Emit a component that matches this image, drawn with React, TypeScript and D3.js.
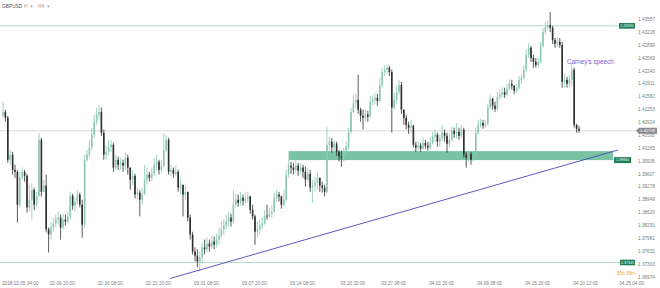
import React from 'react';
import * as d3 from 'd3';

const W = 660;
const H = 288;

const firstOpen = 1.4109;

const closes = [
  1.4119,1.4104,1.3997,1.4010,1.3971,1.3966,1.3882,1.3951,1.3966,1.3956,
  1.3875,1.3895,1.3920,1.3882,1.3905,1.4048,1.3915,1.3931,1.3819,1.3806,
  1.3824,1.3834,1.3844,1.3849,1.3824,1.3844,1.3839,1.3852,1.3905,1.3880,
  1.3890,1.3908,1.3882,1.3831,1.3997,1.4010,1.4028,1.4061,1.4094,1.4112,
  1.4119,1.4066,1.4010,1.4017,1.4030,1.4035,1.3977,1.3997,1.3984,1.3989,
  1.3982,1.4002,1.3977,1.3946,1.3956,1.3908,1.3913,1.3895,1.3908,1.3946,
  1.3959,1.3951,1.3961,1.3984,1.3992,1.3971,1.3982,1.4022,1.4048,1.3966,
  1.3971,1.3961,1.3966,1.3926,1.3933,1.3908,1.3915,1.3849,1.3806,1.3762,
  1.3752,1.3737,1.3747,1.3773,1.3768,1.3783,1.3775,1.3788,1.3780,1.3793,
  1.3803,1.3819,1.3829,1.3839,1.3849,1.3839,1.3882,1.3895,1.3887,1.3900,
  1.3892,1.3898,1.3903,1.3869,1.3852,1.3813,1.3819,1.3829,1.3834,1.3854,
  1.3852,1.3859,1.3864,1.3900,1.3908,1.3903,1.3882,1.3895,1.3959,1.3982,
  1.3977,1.3971,1.3982,1.3969,1.3977,1.3966,1.3946,1.3961,1.3926,1.3931,
  1.3938,1.3951,1.3931,1.3926,1.3915,1.4035,1.4043,1.4028,1.4038,1.4017,
  1.4005,1.4002,1.4012,1.4030,1.4068,1.4119,1.4142,1.4150,1.4125,1.4109,
  1.4104,1.4112,1.4107,1.4145,1.4150,1.4155,1.4147,1.4188,1.4221,1.4227,
  1.4232,1.4221,1.4130,1.4150,1.4170,1.4188,1.4125,1.4104,1.4086,1.4079,
  1.4084,1.4035,1.4028,1.4033,1.4025,1.4040,1.4033,1.4028,1.4040,1.4056,
  1.4061,1.4043,1.4051,1.4066,1.4058,1.4038,1.4048,1.4071,1.4063,1.4068,
  1.4058,1.4074,1.4010,1.4002,1.4012,1.3997,1.4005,1.4066,1.4086,1.4091,
  1.4084,1.4089,1.4130,1.4153,1.4135,1.4127,1.4158,1.4163,1.4170,1.4163,
  1.4178,1.4191,1.4186,1.4173,1.4181,1.4201,1.4206,1.4227,1.4265,1.4283,
  1.4257,1.4247,1.4239,1.4247,1.4288,1.4323,1.4336,1.4341,1.4334,1.4303,
  1.4293,1.4298,1.4290,1.4196,1.4201,1.4191,1.4201,1.4227,1.4086,1.4076,
  1.4071,
];

const highs = [
  1.4145,1.4125,1.4109,1.4022,1.4017,1.3984,1.3971,1.3966,1.3977,1.3971,
  1.3961,1.3933,1.3936,1.3926,1.3915,1.4066,1.4053,1.3946,1.3959,1.3824,
  1.3839,1.3849,1.3857,1.3864,1.3857,1.3859,1.3857,1.3864,1.3915,1.3910,
  1.3900,1.3920,1.3913,1.3895,1.4010,1.4022,1.4048,1.4079,1.4112,1.4130,
  1.4137,1.4130,1.4074,1.4033,1.4048,1.4048,1.4040,1.4010,1.4005,1.4002,
  1.3997,1.4015,1.4010,1.3977,1.3971,1.3961,1.3926,1.3920,1.3926,1.3984,
  1.3977,1.3966,1.3977,1.4002,1.4010,1.3997,1.3997,1.4066,1.4061,1.4053,
  1.3984,1.3977,1.3982,1.3971,1.3951,1.3933,1.3931,1.3908,1.3857,1.3813,
  1.3773,1.3768,1.3762,1.3785,1.3793,1.3798,1.3793,1.3803,1.3801,1.3808,
  1.3824,1.3839,1.3844,1.3857,1.3864,1.3859,1.3920,1.3910,1.3908,1.3915,
  1.3908,1.3913,1.3915,1.3905,1.3882,1.3857,1.3839,1.3844,1.3849,1.3869,
  1.3882,1.3875,1.3880,1.3913,1.3920,1.3915,1.3905,1.3920,1.3971,1.3997,
  1.3992,1.3989,1.3997,1.3989,1.3989,1.3984,1.3979,1.3977,1.3971,1.3946,
  1.3954,1.3966,1.3951,1.3941,1.3933,1.4081,1.4056,1.4053,1.4048,1.4043,
  1.4022,1.4020,1.4028,1.4043,1.4079,1.4130,1.4163,1.4165,1.4214,1.4130,
  1.4125,1.4125,1.4122,1.4160,1.4163,1.4168,1.4165,1.4206,1.4232,1.4239,
  1.4239,1.4237,1.4227,1.4168,1.4186,1.4201,1.4196,1.4125,1.4112,1.4094,
  1.4099,1.4086,1.4043,1.4045,1.4040,1.4053,1.4048,1.4043,1.4053,1.4068,
  1.4074,1.4066,1.4061,1.4086,1.4074,1.4066,1.4063,1.4081,1.4079,1.4091,
  1.4079,1.4086,1.4079,1.4017,1.4022,1.4017,1.4017,1.4079,1.4099,1.4102,
  1.4099,1.4099,1.4140,1.4163,1.4155,1.4145,1.4170,1.4176,1.4183,1.4181,
  1.4191,1.4204,1.4201,1.4188,1.4191,1.4211,1.4216,1.4237,1.4278,1.4295,
  1.4288,1.4265,1.4257,1.4257,1.4298,1.4334,1.4349,1.4354,1.4374,1.4339,
  1.4308,1.4311,1.4308,1.4298,1.4216,1.4209,1.4214,1.4244,1.4232,1.4089,
  1.4084,
];

const lows = [
  1.4104,1.4094,1.3989,1.3984,1.3959,1.3951,1.3836,1.3875,1.3946,1.3941,
  1.3862,1.3864,1.3844,1.3869,1.3877,1.3900,1.3903,1.3915,1.3811,1.3760,
  1.3793,1.3813,1.3824,1.3831,1.3793,1.3819,1.3829,1.3834,1.3844,1.3869,
  1.3864,1.3882,1.3875,1.3798,1.3824,1.3992,1.4002,1.4022,1.4053,1.4086,
  1.4099,1.4058,1.3997,1.3997,1.4007,1.4017,1.3966,1.3971,1.3971,1.3971,
  1.3966,1.3971,1.3959,1.3920,1.3933,1.3898,1.3895,1.3852,1.3882,1.3908,
  1.3933,1.3941,1.3941,1.3956,1.3971,1.3959,1.3964,1.3977,1.4017,1.3959,
  1.3956,1.3951,1.3956,1.3915,1.3908,1.3852,1.3895,1.3839,1.3793,1.3755,
  1.3737,1.3722,1.3711,1.3734,1.3755,1.3760,1.3762,1.3768,1.3768,1.3773,
  1.3780,1.3798,1.3806,1.3819,1.3826,1.3826,1.3834,1.3875,1.3877,1.3880,
  1.3880,1.3885,1.3887,1.3859,1.3844,1.3780,1.3798,1.3808,1.3819,1.3831,
  1.3844,1.3849,1.3849,1.3862,1.3890,1.3890,1.3872,1.3877,1.3890,1.3951,
  1.3961,1.3959,1.3964,1.3956,1.3959,1.3951,1.3928,1.3941,1.3915,1.3887,
  1.3915,1.3920,1.3915,1.3913,1.3903,1.3910,1.4017,1.4015,1.4012,1.4007,
  1.3992,1.3979,1.3992,1.4002,1.4022,1.4063,1.4117,1.4130,1.4114,1.4094,
  1.4074,1.4096,1.4094,1.4104,1.4135,1.4140,1.4135,1.4145,1.4181,1.4211,
  1.4216,1.4211,1.4066,1.4125,1.4140,1.4163,1.4114,1.4086,1.4074,1.4063,
  1.4066,1.4028,1.4017,1.4020,1.4017,1.4022,1.4025,1.4020,1.4022,1.4035,
  1.4043,1.4030,1.4030,1.4045,1.4043,1.4015,1.4030,1.4043,1.4053,1.4051,
  1.4048,1.4053,1.4002,1.3977,1.3992,1.3984,1.3992,1.3997,1.4061,1.4079,
  1.4076,1.4079,1.4084,1.4125,1.4125,1.4119,1.4122,1.4150,1.4155,1.4155,
  1.4160,1.4173,1.4176,1.4165,1.4168,1.4176,1.4191,1.4201,1.4221,1.4257,
  1.4247,1.4232,1.4232,1.4232,1.4242,1.4283,1.4318,1.4329,1.4323,1.4293,
  1.4283,1.4285,1.4283,1.4181,1.4181,1.4181,1.4183,1.4186,1.4079,1.4066,
  1.4066,
];

const yTickLabels = [
  '1.43557','1.43228','1.42899','1.42569','1.42240','1.41911','1.41582',
  '1.41253','1.40924','1.40595','1.40265','1.39936','1.39607','1.39278',
  '1.38949','1.38620','1.38291','1.37961','1.37632','1.37303','1.36974',
];

const xTickLabels = [
  '2018.02.05 04:00','02.09 20:00','02.16 08:00','02.22 20:00','03.01 08:00',
  '03.07 20:00','03.14 08:00','03.20 20:00','03.27 08:00','04.02 20:00',
  '04.09 08:00','04.15 20:00','04.20 12:00','04.25 04:00',
];
const xTickBars = [0, 20, 40, 60, 80, 100, 120, 141, 158, 178, 198, 218, 238, 260];

const resistanceLevel = 1.4339;
const supportLevel = 1.37345;
const lastPrice = 1.40708;
const zoneTop = 1.4019;
const zoneBottom = 1.3996;
const zoneBars = [119, 254.2];
const trendBars = [69.6, 256.3];
const trendPrices = [1.36936, 1.4022];
const noteBar = 235;
const notePrice = 1.4242;

export default function App() {
  const x = d3.scaleLinear().domain([0, 240]).range([3, 579]);
  const y = d3.scaleLinear().domain([1.36974, 1.43557]).range([277, 19.3]);

  const bull = '#8cc9ae';
  const bear = '#2f2f2f';
  const bodyW = 1.6;

  const candles = closes.map((c, i) => {
    const o = i === 0 ? firstOpen : closes[i - 1];
    const h = Math.max(highs[i], o, c);
    const l = Math.min(lows[i], o, c);
    return { i, o, h, l, c };
  });

  const trendLine = d3.line<number>()
    .x((_, k) => x(trendBars[k]))
    .y((p) => y(p));

  const markerFont = { fontFamily: 'Liberation Sans, Arial, sans-serif' };

  return (
    <svg
      width={W}
      height={H}
      style={{ position: 'fixed', left: 0, top: 0, background: '#fff' }}
    >
      <rect x={0} y={0} width={W} height={H} fill="#fff" />
      {/* title */}
      <g style={markerFont} fontSize={4.8} fill="#555">
        <text x={2} y={7.5}>GBPUSD</text>
        <text x={24} y={7.5} fill="#999">H</text>
        <text x={30} y={7.5} fill="#aaa">▾</text>
        <text x={38} y={7.5} fill="#999">H4</text>
        <text x={47} y={7.5} fill="#aaa">▾</text>
      </g>

      {/* horizontal levels */}
      <line x1={0} x2={619} y1={y(resistanceLevel)} y2={y(resistanceLevel)} stroke="#b7dccd" strokeWidth={1} />
      <line x1={0} x2={620} y1={y(supportLevel)} y2={y(supportLevel)} stroke="#b7dccd" strokeWidth={1} />
      <line x1={0} x2={637} y1={y(lastPrice)} y2={y(lastPrice)} stroke="#cfcfcf" strokeWidth={0.8} />

      {/* zone */}
      <rect
        x={x(zoneBars[0])}
        width={x(zoneBars[1]) - x(zoneBars[0])}
        y={y(zoneTop)}
        height={y(zoneBottom) - y(zoneTop)}
        fill="#62b994"
        opacity={0.85}
      />

      {/* candles */}
      <g>
        {candles.map((d) => {
          const up = d.c >= d.o;
          const col = up ? bull : bear;
          const top = y(Math.max(d.o, d.c));
          const bot = y(Math.min(d.o, d.c));
          return (
            <g key={d.i}>
              <line x1={x(d.i)} x2={x(d.i)} y1={y(d.h)} y2={y(d.l)} stroke={col} strokeWidth={0.8} />
              <rect
                x={x(d.i) - bodyW / 2}
                width={bodyW}
                y={top}
                height={Math.max(0.8, bot - top)}
                fill={col}
              />
            </g>
          );
        })}
      </g>

      {/* trend line */}
      <path d={trendLine(trendPrices) || ''} fill="none" stroke="#4747b5" strokeWidth={0.9} />

      {/* annotation */}
      <text x={x(noteBar)} y={y(notePrice)} fontSize={6.3} fill="#8a52d6" style={markerFont}>
        Carney's speech
      </text>
      <text x={617} y={275} fontSize={4.7} fill="#f0a23a" style={markerFont}>55h 39m</text>

      {/* right axis */}
      <g style={markerFont} fontSize={4.7} fill="#808080">
        {yTickLabels.map((t) => (
          <text key={t} x={638} y={y(+t)} dy="0.35em">{t}</text>
        ))}
      </g>

      {/* bottom axis */}
      <g style={markerFont} fontSize={4.7} fill="#808080">
        {xTickLabels.map((t, k) => (
          <text
            key={t}
            x={k === xTickLabels.length - 1 ? 644 : x(xTickBars[k]) - 1}
            y={285}
            textAnchor={k === xTickLabels.length - 1 ? 'end' : 'start'}
          >
            {t}
          </text>
        ))}
      </g>

      {/* level markers */}
      <g style={markerFont} fontSize={3.6} fill="#fff">
        <rect x={619} y={y(resistanceLevel) - 2.8} width={16} height={5.6} fill="#1f7f57" />
        <text x={627} y={y(resistanceLevel)} dy="0.35em" textAnchor="middle">1.43390</text>
        <rect x={x(zoneBars[1]) + 1} y={y(zoneBottom) - 3} width={17} height={6} fill="#1f7f57" />
        <text x={x(zoneBars[1]) + 9.5} y={y(zoneBottom)} dy="0.35em" textAnchor="middle">1.39960</text>
        <rect x={620} y={y(supportLevel) - 2.8} width={15} height={5.6} fill="#1f7f57" />
        <text x={627.5} y={y(supportLevel)} dy="0.35em" textAnchor="middle">1.37345</text>
        <polygon
          points={`636,${y(lastPrice)} 639,${y(lastPrice) - 3} 657,${y(lastPrice) - 3} 657,${y(lastPrice) + 3} 639,${y(lastPrice) + 3}`}
          fill="#8a8a8a"
        />
        <text x={647.5} y={y(lastPrice)} dy="0.35em" textAnchor="middle" fontSize={4.2}>1.40708</text>
      </g>
    </svg>
  );
}
